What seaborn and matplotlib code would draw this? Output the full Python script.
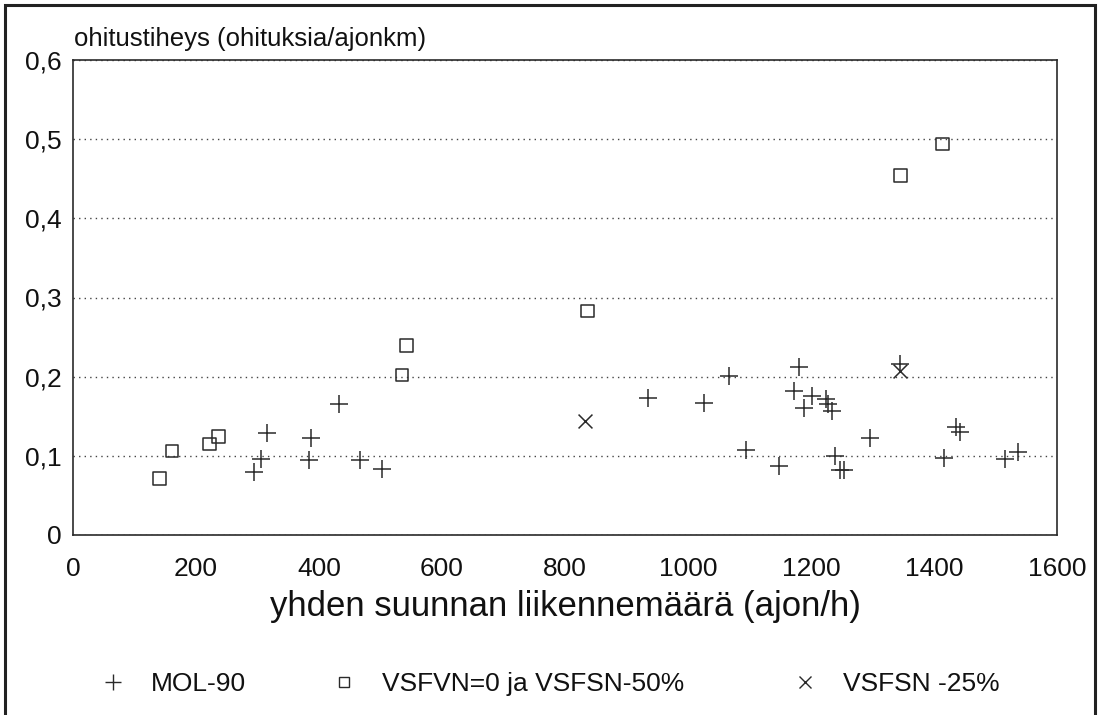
import matplotlib
matplotlib.use("Agg")
import matplotlib.pyplot as plt
import seaborn as sns
import pandas as pd
from matplotlib.lines import Line2D
from matplotlib.patches import Rectangle

# ---- data ----
mol_x = [295, 305, 315, 384, 387, 432, 467, 503, 935, 1026, 1067, 1095, 1148, 1173, 1181,
         1189, 1201, 1224, 1228, 1234, 1239, 1247, 1253, 1296, 1344, 1416, 1436, 1442, 1515, 1536]
mol_y = [0.079, 0.096, 0.129, 0.095, 0.122, 0.165, 0.095, 0.084, 0.173, 0.167, 0.201, 0.108, 0.087, 0.182, 0.212,
         0.160, 0.176, 0.172, 0.166, 0.157, 0.100, 0.082, 0.082, 0.122, 0.216, 0.097, 0.136, 0.130, 0.096, 0.105]
vsfvn_x = [141, 161, 222, 236, 535, 542, 836, 1345, 1414]
vsfvn_y = [0.071, 0.106, 0.115, 0.124, 0.202, 0.239, 0.283, 0.454, 0.494]
vsfsn_x = [832, 1344]
vsfsn_y = [0.144, 0.207]

series_names = ["MOL-90", "VSFVN=0 ja VSFSN-50%", "VSFSN -25%"]
x_ticks = [0, 200, 400, 600, 800, 1000, 1200, 1400, 1600]
y_ticks = [0, 0.1, 0.2, 0.3, 0.4, 0.5, 0.6]
y_tick_labels = ["0", "0,1", "0,2", "0,3", "0,4", "0,5", "0,6"]
x_title = "yhden suunnan liikennemäärä (ajon/h)"
y_title = "ohitustiheys (ohituksia/ajonkm)"

df_mol = pd.DataFrame({"x": mol_x, "y": mol_y})
df_sq = pd.DataFrame({"x": vsfvn_x, "y": vsfvn_y})
df_x = pd.DataFrame({"x": vsfsn_x, "y": vsfsn_y})

sns.set_theme(style="white")
plt.rcParams["font.family"] = ["Liberation Sans", "DejaVu Sans"]

W, H = 1103, 715
fig = plt.figure(figsize=(W / 100, H / 100), dpi=100)
fig.patch.set_facecolor("white")
ax = fig.add_axes([73 / W, 1 - 535 / H, (1057 - 73) / W, (535 - 60) / H])

ink = "#2a2a2a"
sns.scatterplot(data=df_mol, x="x", y="y", marker="+", s=150, color=ink, linewidth=1.1, ax=ax, legend=False)
sns.scatterplot(data=df_sq, x="x", y="y", marker="s", s=85, facecolors="none", edgecolors=ink,
                linewidth=1.1, ax=ax, legend=False)
sns.scatterplot(data=df_x, x="x", y="y", marker="x", s=100, color=ink, linewidth=1.1, ax=ax, legend=False)

ax.set_xlim(0, 1600)
ax.set_ylim(0, 0.6)
ax.set_xticks(x_ticks)
ax.set_xticklabels([str(v) for v in x_ticks])
ax.set_yticks(y_ticks)
ax.set_yticklabels(y_tick_labels)
ax.tick_params(axis="x", direction="in", length=9, width=1.1, color=ink, pad=15.5, labelsize=19, labelcolor="#111")
ax.tick_params(axis="y", direction="in", length=5, width=1.0, color=ink, pad=8, labelsize=19, labelcolor="#111")
ax.yaxis.grid(True, linestyle=(0, (1, 3)), color="#444", linewidth=1.0)
ax.xaxis.grid(False)
for sp in ax.spines.values():
    sp.set_visible(True)
    sp.set_color(ink)
    sp.set_linewidth(1.2)
ax.set_xlabel(x_title, fontsize=25, color="#111", labelpad=7)
ax.set_ylabel("")

fig.text(74 / W, 1 - 46 / H, y_title, fontsize=18.5, color="#111", ha="left", va="baseline")

# legend items below the chart
markers = ["+", "s", "x"]
msizes = [11, 7, 8]
marker_px = [113, 344, 805]
fs = 19
fs_px = fs * 100 / 72
for name, mk, ms, mx in zip(series_names, markers, msizes, marker_px):
    h = Line2D([], [], linestyle="none", marker=mk, markersize=ms, color=ink,
               markerfacecolor="none", markeredgecolor=ink, markeredgewidth=1.0)
    left = mx - 0.5 * fs_px
    leg = fig.legend(handles=[h], labels=[name], loc="center left",
                     bbox_to_anchor=(left / W, 1 - 684 / H), frameon=False,
                     fontsize=fs, handlelength=1.0, handletextpad=0.94,
                     borderpad=0, borderaxespad=0)
    for t in leg.get_texts():
        t.set_color("#111")

# outer frame of the scanned figure
fig.add_artist(Rectangle((5 / W, -0.1), (1095 - 5) / W, 1.1 - 5 / H, transform=fig.transFigure,
                         fill=False, edgecolor="#222", linewidth=2.2, clip_on=False))

fig.savefig("out.png", dpi=100, facecolor="white")
